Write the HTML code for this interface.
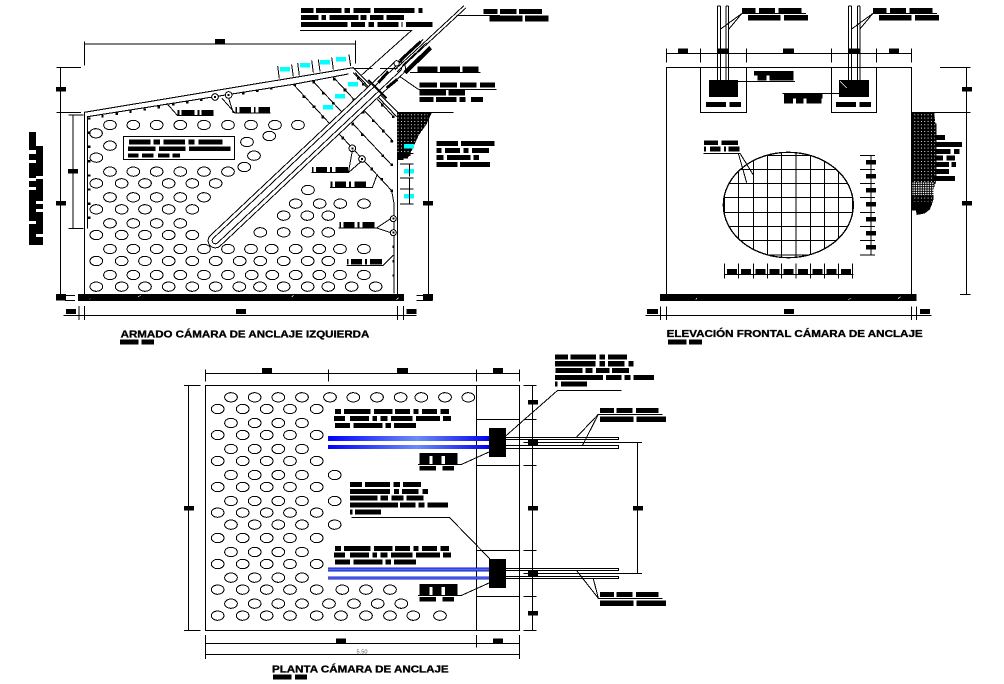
<!DOCTYPE html>
<html lang="es"><head><meta charset="utf-8"><title>Cámara de anclaje</title>
<style>
html,body{margin:0;padding:0;background:#fff}
svg{display:block;shape-rendering:crispEdges}
.l{fill:none;stroke:#000;stroke-width:3.2}
.d{fill:none;stroke:#000;stroke-width:3}
.b{fill:#000;stroke:none}
.e{fill:#fff;stroke:#000;stroke-width:3}
.c{fill:#00ffff}
.t{font-family:"Liberation Sans",sans-serif;font-weight:bold;font-size:29px;fill:#000;stroke:#000;stroke-width:1}
</style></head><body>
<svg xmlns="http://www.w3.org/2000/svg" width="1004" height="684" viewBox="0 0 1004 684">
<defs>
<ellipse id="e" class="e" cx="0" cy="0" rx="19" ry="14"/>
<pattern id="h" width="10" height="10" patternUnits="userSpaceOnUse"><rect width="10" height="10" fill="#000"/><rect x="3" y="3" width="3.4" height="3.4" fill="#fff"/></pattern>
<pattern id="h2" width="7" height="7" patternUnits="userSpaceOnUse"><rect width="7" height="7" fill="#000"/><rect x="2" y="2" width="3.4" height="3.4" fill="#fff"/></pattern>
<linearGradient id="g" x1="0" x2="1" y1="0" y2="0"><stop offset="0" stop-color="#0000ff"/><stop offset=".55" stop-color="#6d8cf5"/><stop offset="1" stop-color="#0000f0"/></linearGradient>
<linearGradient id="g2" x1="0" x2="0" y1="0" y2="1"><stop offset="0" stop-color="#0000d8"/><stop offset=".5" stop-color="#5b78ee"/><stop offset="1" stop-color="#0000b0"/></linearGradient>
<clipPath id="cc"><ellipse cx="865" cy="615" rx="195" ry="158"/></clipPath>
</defs>

<!-- ============ LEFT DRAWING ============ -->
<g transform="scale(.33333)">
<!-- ellipses -->
<g transform="translate(0,375)"><use href="#e" x="330"/><use href="#e" x="400"/><use href="#e" x="470"/><use href="#e" x="541"/><use href="#e" x="612"/><use href="#e" x="684"/><use href="#e" x="753"/><use href="#e" x="825"/><use href="#e" x="894"/></g>
<use href="#e" x="288" y="400"/><use href="#e" x="808" y="408"/><use href="#e" x="741" y="426"/><use href="#e" x="330" y="437"/><use href="#e" x="762" y="467"/><use href="#e" x="289" y="473"/><use href="#e" x="733" y="501"/>
<g transform="translate(0,515)"><use href="#e" x="330"/><use href="#e" x="400"/><use href="#e" x="470"/><use href="#e" x="541"/><use href="#e" x="612"/><use href="#e" x="684"/></g>
<g transform="translate(0,550)"><use href="#e" x="289"/><use href="#e" x="365"/><use href="#e" x="435"/><use href="#e" x="506"/><use href="#e" x="577"/><use href="#e" x="647"/></g>
<g transform="translate(0,592)"><use href="#e" x="330"/><use href="#e" x="400"/><use href="#e" x="470"/><use href="#e" x="541"/><use href="#e" x="612"/></g>
<g transform="translate(0,628)"><use href="#e" x="289"/><use href="#e" x="365"/><use href="#e" x="435"/><use href="#e" x="506"/><use href="#e" x="577"/></g>
<g transform="translate(0,670)"><use href="#e" x="330"/><use href="#e" x="400"/><use href="#e" x="470"/><use href="#e" x="541"/></g>
<g transform="translate(0,705)"><use href="#e" x="289"/><use href="#e" x="365"/><use href="#e" x="435"/><use href="#e" x="506"/><use href="#e" x="577"/></g>
<g transform="translate(0,747)"><use href="#e" x="330"/><use href="#e" x="400"/><use href="#e" x="470"/><use href="#e" x="541"/><use href="#e" x="612"/><use href="#e" x="684"/><use href="#e" x="753"/><use href="#e" x="815"/><use href="#e" x="887"/><use href="#e" x="958"/><use href="#e" x="1020"/><use href="#e" x="1092"/></g>
<g transform="translate(0,783)"><use href="#e" x="289"/><use href="#e" x="365"/><use href="#e" x="435"/><use href="#e" x="506"/><use href="#e" x="577"/><use href="#e" x="647"/><use href="#e" x="719"/><use href="#e" x="781"/><use href="#e" x="851"/><use href="#e" x="923"/><use href="#e" x="985"/></g>
<g transform="translate(0,825)"><use href="#e" x="330"/><use href="#e" x="400"/><use href="#e" x="470"/><use href="#e" x="541"/><use href="#e" x="612"/><use href="#e" x="684"/><use href="#e" x="755"/><use href="#e" x="817"/><use href="#e" x="887"/><use href="#e" x="958"/><use href="#e" x="1020"/><use href="#e" x="1092"/></g>
<g transform="translate(0,860)"><use href="#e" x="289"/><use href="#e" x="365"/><use href="#e" x="435"/><use href="#e" x="506"/><use href="#e" x="577"/><use href="#e" x="647"/><use href="#e" x="718"/><use href="#e" x="780"/><use href="#e" x="851"/><use href="#e" x="923"/><use href="#e" x="985"/><use href="#e" x="1055"/><use href="#e" x="1127"/></g>
<use href="#e" x="924" y="570"/>
<g transform="translate(0,611)"><use href="#e" x="887"/><use href="#e" x="959"/><use href="#e" x="1021"/><use href="#e" x="1092"/></g>
<g transform="translate(0,647)"><use href="#e" x="851"/><use href="#e" x="922"/><use href="#e" x="985"/></g>
<g transform="translate(0,697)"><use href="#e" x="781"/><use href="#e" x="851"/><use href="#e" x="923"/><use href="#e" x="985"/></g>

<!-- outline -->
<path class="l" d="M253 882V337L1060 203L1192 335V882M263 685V350L880 253L1045 222M1182 880V610M1065 218L1190 350"/>
<!-- rebar diagonals -->
<path class="d" d="M880 253L1175 572L1182 610M940 245L1175 495M1003 235L1180 425M1060 218L1180 350"/>
<path class="b" d="M880 250h8v8h-8zM908 286h8v8h-8zM938 316h8v8h-8zM964 347h8v8h-8zM993 378h8v8h-8zM1024 410h8v8h-8zM1111 503h8v8h-8zM1141 534h8v8h-8zM1171 568h8v8h-8zM937 243h8v8h-8zM966 276h8v8h-8zM996 306h8v8h-8zM1026 338h8v8h-8zM1054 368h8v8h-8zM1083 400h8v8h-8zM1144 463h8v8h-8zM1171 490h8v8h-8zM999 233h8v8h-8zM1031 266h8v8h-8zM1058 296h8v8h-8zM1086 333h8v8h-8zM1116 358h8v8h-8zM1146 389h8v8h-8zM1171 420h8v8h-8zM1071 231h8v8h-8zM1086 249h8v8h-8zM1116 281h8v8h-8zM1143 311h8v8h-8zM1176 346h8v8h-8z"/>
<path class="b" d="M264 352h7v7h-7zM304 345h7v7h-7zM347 338h7v7h-7zM388 332h7v7h-7zM431 325h7v7h-7zM473 318h7v7h-7zM516 310h7v7h-7zM558 303h7v7h-7zM600 296h7v7h-7zM684 284h7v7h-7zM726 276h7v7h-7zM768 269h7v7h-7zM810 262h7v7h-7zM264 395h7v7h-7zM264 437h7v7h-7zM264 480h7v7h-7zM264 523h7v7h-7zM264 565h7v7h-7zM264 608h7v7h-7zM264 650h7v7h-7zM1177 737h7v7h-7zM1177 780h7v7h-7zM1177 823h7v7h-7z"/>
<!-- anchor tube -->
<path d="M646 722L1195 205" stroke="#000" stroke-width="46" stroke-linecap="round" fill="none"/>
<path d="M646 722L1195 205" stroke="#fff" stroke-width="40" stroke-linecap="round" fill="none"/>
<path d="M646 722L1195 205" stroke="#000" stroke-width="22" stroke-linecap="round" fill="none"/>
<path d="M646 722L1195 205" stroke="#fff" stroke-width="16" stroke-linecap="round" fill="none"/>
<path d="M1188 212L1395 20" stroke="#000" stroke-width="12" fill="none"/>
<path d="M1188 212L1395 20" stroke="#fff" stroke-width="6" fill="none"/>
<path d="M1197 190L1270 118M1207 197L1280 128" class="d"/>
<path d="M1200 182L1262 125" stroke="#000" stroke-width="9" fill="none"/>
<path d="M1215 218L1292 143" stroke="#000" stroke-width="13" fill="none"/>
<path d="M1135 248L1165 215M1160 264L1192 238" stroke="#000" stroke-width="9" fill="none"/>
<path d="M1105 240L1160 295" stroke="#000" stroke-width="6" fill="none"/>
<circle cx="1190" cy="190" r="8" fill="#fff" stroke="#000" stroke-width="3"/>
<!-- small circles -->
<g fill="#fff" stroke="#000" stroke-width="3"><circle cx="645" cy="291" r="10"/><circle cx="686" cy="285" r="10"/><circle cx="1057" cy="445" r="10"/><circle cx="1086" cy="477" r="10"/><circle cx="1180" cy="656" r="9"/><circle cx="1180" cy="698" r="9"/></g>
<path class="b" d="M642 288h6v6h-6zM683 282h6v6h-6zM1054 442h6v6h-6zM1083 474h6v6h-6zM1177 653h6v6h-6zM1177 695h6v6h-6z"/>
<!-- hatch -->
<path fill="url(#h)" d="M1192 337H1296L1280 372L1255 408L1240 442L1226 470L1192 480z"/>
<path class="b" d="M1192 458h40v10h-8v8h-14v4h-18z"/>
<!-- cyan -->
<path class="c" d="M840 201h30v14h-30zM900 189h30v14h-30zM960 180h30v14h-30zM1008 171h30v14h-30zM1044 246h30v14h-30zM1005 282h30v14h-30zM969 315h30v14h-30zM1212 432h30v14h-30zM1212 507h30v14h-30zM1212 582h30v14h-30z"/>
<path class="d" d="M833 198L838 236M875 194L880 230M893 189L898 226M935 181L940 218M955 178L960 214M995 172L1000 208M1047 164L1052 198M1200 492H1240M1228 492V530M1200 534H1240M1228 534V570M1200 567H1240M1228 570V612M1200 612H1240M1200 460H1240"/>
<!-- dims -->
<path class="d" d="M253 132H1067M253 124V197M1067 122V190M182 202V882M170 202H243M170 337H243M219 345V685M205 345H250M205 685H250M1285 340V885M1192 337H1360M190 946H1250M237 918V960M253 918V960M1193 918V960M1210 918V960M195 887H225M195 901H225M1250 887H1298M1250 901H1298M1060 205H1118M1140 205H1192"/>
<!-- slab -->
<path class="b" d="M234 882h978v21H234z"/>
<path d="M415 891l6-5M875 891l5-5M1190 899l6-6M268 899l4-4" stroke="#fff" stroke-width="2" fill="none"/>
<!-- dim blocks -->
<path class="b" d="M645 117h30v16h-30zM168 261h30v14h-30zM168 603h30v14h-30zM168 882h30v20h-30zM204 507h30v14h-30zM1269 603h30v14h-30zM1269 882h30v20h-30zM198 927h30v15h-30zM708 927h30v15h-30zM1220 927h30v15h-30z"/>
<!-- vertical blob -->
<path class="b" d="M87 396h21v42h21v297H87z"/>
<path d="M87 450h21v12H87zM87 480h21v9H87zM87 534h21v9H87zM87 561h21v9H87zM87 663h21v9H87zM108 528h21v9h-21zM108 603h21v9h-21zM108 627h21v9h-21zM108 702h21v9h-21z" fill="#fff"/>
<!-- top note -->
<path class="b" d="M903 24h37v15h-37zM948 24h77v15h-77zM1033 24h17v15h-17zM1060 24h52v15h-52zM1122 24h121v15h-121zM1255 24h13v15h-13zM903 45h52v15h-52zM965 45h13v15h-13zM988 45h87v15h-87zM1082 45h18v15h-18zM1110 45h40v15h-40zM1160 45h52v15h-52zM903 66h140v15H903zM1053 66h42v15h-42zM1105 66h17v15h-17zM1132 66h63v15h-63zM1205 66h3v15h-3zM1218 66h80v15h-80z"/>
<path class="d" d="M900 91H1235L1085 225"/>
<path class="d" d="M1370 47H1500"/>
<path class="b" d="M1450 27h42v15h-42zM1468 47h32v17h-32z"/>
<!-- right notes -->
<path class="b" d="M1252 199h60v17h-60zM1320 199h7v17h-7zM1328 199h52v17h-52zM1388 199h48v17h-48zM1258 247h53v16h-53zM1320 247h51v16h-51zM1380 247h50v16h-50zM1440 247h45v16h-45zM1258 270h80v17h-80zM1345 270h50v17h-50zM1258 291h43v15h-43zM1308 291h62v15h-62zM1378 291h18v15h-18zM1413 291h36v15h-36zM1309 423h65v15h-65zM1383 423h100v15h-100zM1309 444h16v15h-16zM1335 444h45v15h-45zM1390 444h16v15h-16zM1416 444h51v15h-51zM1309 465h22v15h-22zM1341 465h70v15h-70zM1420 465h17v15h-17zM1309 486h63v15h-63zM1380 486h90v15h-90z"/>
<path class="d" d="M1230 217H1442M1255 268H1490M1200 230L1255 268"/>
<!-- box -->
<rect x="371" y="409" width="333" height="70" fill="#fff" stroke="#000" stroke-width="3"/>
<path class="b" d="M387 418h65v16h-65zM460 418h20v16h-20zM490 418h65v16h-65zM565 418h18v16h-18zM595 418h72v16h-72zM384 439h82v14h-82zM477 439h80v14h-80zM567 439h124v14H567zM384 460h32v13h-32zM426 460h35v13h-35zM474 460h34v13h-34zM518 460h22v13h-22z"/>
<!-- labels -->
<path class="b" d="M533 330h5v17h-5zM545 330h38v17h-38zM592 330h6v17h-6zM605 330h35v17h-35zM706 321h5v17h-5zM718 321h35v17h-35zM762 321h5v17h-5zM775 321h35v17h-35zM936 501h5v17h-5zM948 501h33v17h-33zM990 501h6v17h-6zM1006 501h38v17h-38zM992 544h6v17h-6zM1005 544h33v17h-33zM1047 544h6v17h-6zM1063 544h35v17h-35zM1018 666h5v17h-5zM1030 666h33v17h-33zM1072 666h6v17h-6zM1088 666h35v17h-35zM1041 777h5v17h-5zM1053 777h33v17h-33zM1095 777h6v17h-6zM1110 777h36v17h-36z"/>
<path class="d" d="M500 310L533 347H640M812 339H705L666 295M700 339L686 295M935 518H1045L1057 452M1045 518L1085 483M990 563H1117L1132 522M1015 684H1130L1172 656M1130 684L1172 698M1040 796H1150L1180 765"/>
<!-- title -->
<text class="t" x="362" y="1013" textLength="746" lengthAdjust="spacingAndGlyphs">ARMADO CÁMARA DE ANCLAJE IZQUIERDA</text>
<path class="b" d="M360 1019h56v15h-56zM425 1019h37v15h-37z"/>
</g>

<!-- ============ FRONT ELEVATION ============ -->
<g transform="translate(500,0) scale(.33333)">
<path class="l" d="M499 882V202H1235V882M601 202V337H740V202M994 202V337H1130V202"/>
<path class="l" d="M652 18V240M661 18V240M678 18V240M686 18V240M1046 18V240M1055 18V240M1072 18V240M1080 18V240M652 18H661M678 18H686M1046 18H1055M1072 18H1080"/>
<path class="b" d="M627 240h87v51h-87zM1017 240h90v51h-90zM652 145h35v15h-35zM1045 145h35v15h-35zM534 145h30v15h-30zM849 145h33v15h-33zM1167 145h30v15h-30zM618 306h60v15h-60zM688 306h35v15h-35zM1008 306h60v15h-60zM1078 306h35v15h-35z"/>
<path d="M1020 244l20 20" stroke="#fff" stroke-width="2.5" fill="none"/>
<path class="d" d="M499 160H1235M499 146V188M601 146V188M740 146V188M994 146V188M1130 146V188M1235 146V188"/>
<!-- hatch right -->
<path fill="url(#h)" d="M1236 337H1303L1306 370H1310V540L1300 570V600L1290 628L1275 640L1250 645L1248 632H1236z"/>
<path fill="url(#h2)" d="M1236 548H1300V585H1236z"/>
<path class="b" d="M1236 605h60v8l-10 18-12 8-24 6-2-13h-12z"/>
<path class="b" d="M1305 405h30v15h-30zM1305 426h81v15h-81zM1305 447h46v15h-46zM1362 447h17v15h-17zM1305 466h24v15h-24zM1340 466h25v15h-25zM1305 486h42v15h-42zM1354 486h14v15h-14zM1305 507h42v15h-42zM1296 528h69v15h-69z"/>
<!-- grid ellipse -->
<ellipse cx="865" cy="615" rx="195" ry="158" fill="#fff" stroke="#000" stroke-width="4"/>
<path class="l" clip-path="url(#cc)" d="M673 450V780M715 450V780M760 450V780M802 450V780M845 450V780M888 450V780M932 450V780M973 450V780M1015 450V780M1058 450V780M660 466H1070M660 508H1070M660 550H1070M660 592H1070M660 637H1070M660 680H1070M660 722H1070M660 765H1070"/>
<!-- small dims -->
<path class="d" d="M1113 466V765M1080 466H1125M1080 508H1125M1080 550H1125M1080 592H1125M1080 637H1125M1080 680H1125M1080 722H1125M1080 765H1125M672 824H1060M673 790V835M715 790V835M760 790V835M802 790V835M845 790V835M888 790V835M932 790V835M973 790V835M1015 790V835M1058 790V835"/>
<path class="b" d="M1098 480h30v14h-30zM1098 522h30v14h-30zM1098 564h30v14h-30zM1098 606h30v14h-30zM1098 651h30v14h-30zM1098 693h30v14h-30zM1098 735h30v14h-30zM681 807h30v16h-30zM723 807h30v16h-30zM766 807h30v16h-30zM808 807h30v16h-30zM851 807h30v16h-30zM894 807h30v16h-30zM937 807h30v16h-30zM979 807h30v16h-30zM1023 807h30v16h-30z"/>
<!-- labels on top -->
<path class="b" d="M726 24h40v16h-40zM777 24h48v16h-48zM836 24h68v16h-68zM744 45h98v16h-98zM852 45h72v16h-72zM1119 24h40v16h-40zM1170 24h48v16h-48zM1229 24h68v16h-68zM1137 45h98v16h-98zM1245 45h72v16h-72z"/>
<path class="d" d="M725 41H918M662 87L725 41L686 88M1118 41H1311M1055 87L1118 41L1079 88"/>
<path class="b" d="M762 213h118v13h-118zM772 226h28v15h-28zM808 226h72v15h-72zM852 282h116v13H852zM852 295h27v16h-27zM888 295h22v16h-22zM920 295h44v16h-44z"/>
<path class="d" d="M714 245H885M848 281H1018"/>
<path class="b" d="M612 421h42v14h-42zM664 421h50v14h-50zM612 439h6v15h-6zM630 439h32v15h-32zM672 439h6v15h-6zM686 439h32v15h-32z"/>
<path class="d" d="M610 460H720L760 525M715 460L740 548"/>
<!-- right dim -->
<path class="d" d="M1399 202V884M1320 202H1412M1235 337H1412M1380 884H1412"/>
<path class="b" d="M1386 261h30v14h-30zM1386 603h30v14h-30z"/>
<!-- slab -->
<path class="b" d="M480 882h770v21H480z"/>
<path d="M586 899l5-4M1046 899l5-4M1194 896l8-6" stroke="#fff" stroke-width="2" fill="none"/>
<path class="d" d="M437 946H1295M481 920V960M499 920V960M1235 920V960M1250 920V960"/>
<path class="b" d="M441 927h33v15h-33zM852 927h30v15h-30zM1260 927h30v15h-30z"/>
<text class="t" x="500" y="1011" textLength="768" lengthAdjust="spacingAndGlyphs">ELEVACIÓN FRONTAL CÁMARA DE ANCLAJE</text>
<path class="b" d="M504 1018h55v16h-55zM567 1018h39v16h-39z"/>
<path class="b" d="M0 27h50v15H0zM57 27h69v15H57zM0 47h67v18H0zM75 47h71v18H75z"/>
</g>

<!-- ============ PLAN ============ -->
<g transform="translate(180,345) scale(.33333)">
<path class="l" d="M76 122H1018V856H76zM889 122V856"/>
<g transform="translate(0,157)"><use href="#e" x="153"/><use href="#e" x="224"/><use href="#e" x="295"/><use href="#e" x="366"/><use href="#e" x="450"/><use href="#e" x="520"/><use href="#e" x="591"/><use href="#e" x="662"/><use href="#e" x="724"/><use href="#e" x="795"/><use href="#e" x="865"/></g>
<g transform="translate(0,192)"><use href="#e" x="113"/><use href="#e" x="188"/><use href="#e" x="260"/><use href="#e" x="330"/><use href="#e" x="410"/></g>
<g transform="translate(0,234)"><use href="#e" x="153"/><use href="#e" x="224"/><use href="#e" x="295"/><use href="#e" x="366"/></g>
<g transform="translate(0,270)"><use href="#e" x="113"/><use href="#e" x="188"/><use href="#e" x="260"/><use href="#e" x="330"/><use href="#e" x="410"/></g>
<g transform="translate(0,312)"><use href="#e" x="153"/><use href="#e" x="224"/><use href="#e" x="295"/><use href="#e" x="366"/></g>
<g transform="translate(0,348)"><use href="#e" x="113"/><use href="#e" x="188"/><use href="#e" x="260"/><use href="#e" x="330"/><use href="#e" x="410"/></g>
<g transform="translate(0,390)"><use href="#e" x="153"/><use href="#e" x="224"/><use href="#e" x="295"/><use href="#e" x="366"/><use href="#e" x="464"/></g>
<g transform="translate(0,426)"><use href="#e" x="113"/><use href="#e" x="188"/><use href="#e" x="260"/><use href="#e" x="330"/><use href="#e" x="410"/></g>
<g transform="translate(0,468)"><use href="#e" x="153"/><use href="#e" x="224"/><use href="#e" x="295"/><use href="#e" x="366"/><use href="#e" x="464"/></g>
<g transform="translate(0,503)"><use href="#e" x="113"/><use href="#e" x="188"/><use href="#e" x="260"/><use href="#e" x="330"/><use href="#e" x="410"/></g>
<g transform="translate(0,539)"><use href="#e" x="153"/><use href="#e" x="224"/><use href="#e" x="295"/><use href="#e" x="366"/><use href="#e" x="464"/></g>
<g transform="translate(0,579)"><use href="#e" x="113"/><use href="#e" x="188"/><use href="#e" x="260"/><use href="#e" x="330"/><use href="#e" x="410"/></g>
<g transform="translate(0,621)"><use href="#e" x="153"/><use href="#e" x="224"/><use href="#e" x="295"/><use href="#e" x="366"/></g>
<g transform="translate(0,657)"><use href="#e" x="113"/><use href="#e" x="188"/><use href="#e" x="260"/><use href="#e" x="330"/><use href="#e" x="410"/></g>
<g transform="translate(0,698)"><use href="#e" x="153"/><use href="#e" x="224"/><use href="#e" x="295"/><use href="#e" x="366"/></g>
<g transform="translate(0,734)"><use href="#e" x="113"/><use href="#e" x="188"/><use href="#e" x="260"/><use href="#e" x="330"/><use href="#e" x="410"/><use href="#e" x="487"/><use href="#e" x="558"/><use href="#e" x="630"/></g>
<g transform="translate(0,776)"><use href="#e" x="153"/><use href="#e" x="224"/><use href="#e" x="295"/><use href="#e" x="366"/><use href="#e" x="447"/><use href="#e" x="522"/><use href="#e" x="593"/><use href="#e" x="664"/></g>
<g transform="translate(0,812)"><use href="#e" x="113"/><use href="#e" x="188"/><use href="#e" x="260"/><use href="#e" x="330"/><use href="#e" x="410"/><use href="#e" x="483"/><use href="#e" x="558"/><use href="#e" x="630"/><use href="#e" x="700"/><use href="#e" x="780"/></g>
<!-- blue -->
<rect x="444" y="273" width="485" height="15" fill="url(#g)"/>
<rect x="444" y="300" width="485" height="12" fill="url(#g)"/>
<rect x="444" y="667" width="485" height="13" fill="url(#g2)"/>
<rect x="444" y="694" width="485" height="10" fill="url(#g2)"/>
<!-- blocks -->
<path class="b" d="M927 249h51v87h-51zM927 642h51v87h-51z"/>
<!-- bars -->
<path class="d" d="M978 277H1315V284H978M978 302H1315V311H978M978 670H1315V677H978M978 694H1315V701H978"/>
<path class="d" d="M889 223H1018M889 361H1018M889 616H1018M889 754H1018"/>
<!-- dims -->
<path class="d" d="M76 85H1018M76 73V110M445 73V110M889 73V110M1018 73V110M26 122V856M12 122H62M12 856H62M1058 122V856M1030 122H1070M1030 223H1070M1030 293H1070M1030 361H1070M1030 616H1070M1030 685H1070M1030 754H1070M1030 856H1070M1372 293V685M1060 293H1386M1060 685H1386M76 895H1018M76 870V908M889 870V908M1018 870V908M76 928H1018M76 908V942M1018 908V942"/>
<path class="b" d="M246 69h30v15h-30zM651 69h33v15h-33zM939 69h30v15h-30zM12 483h30v14H12zM1044 165h30v14h-30zM1044 285h30v16h-30zM1044 483h30v14h-30zM1044 678h30v16h-30zM1044 798h30v14h-30zM1359 483h30v14h-30zM468 880h30v15h-30zM939 880h30v15h-30z"/>
<text x="546" y="926" text-anchor="middle" font-family="Liberation Sans, sans-serif" font-size="17" fill="#555">5.50</text>
<!-- notes -->
<path class="b" d="M465 192h18v15h-18zM492 192h80v15h-80zM582 192h55v15h-55zM645 192h45v15h-45zM700 192h15v15h-15zM726 192h45v15h-45zM781 192h26v15h-26zM462 213h33v15h-33zM510 213h57v15h-57zM577 213h14v15h-14zM601 213h22v15h-22zM633 213h65v15h-65zM708 213h72v15h-72zM789 213h24v15h-24zM465 234h45v15h-45zM520 234h87v15h-87zM616 234h17v15h-17zM642 234h66v15h-66zM465 603h18v15h-18zM492 603h80v15h-80zM582 603h55v15h-55zM645 603h45v15h-45zM700 603h15v15h-15zM726 603h45v15h-45zM781 603h26v15h-26zM462 623h33v15h-33zM510 623h57v15h-57zM577 623h14v15h-14zM601 623h22v15h-22zM633 623h65v15h-65zM708 623h72v15h-72zM789 623h24v15h-24zM465 644h45v15h-45zM520 644h87v15h-87zM616 644h17v15h-17zM642 644h66v15h-66zM510 411h36v15h-36zM555 411h75v15h-75zM640 411h20v15h-20zM669 411h54v15h-54zM510 432h120v15H510zM642 432h15v15h-15zM666 432h50v15h-50zM727 432h17v15h-17zM510 452h82v15h-82zM602 452h22v15h-22zM634 452h36v15h-36zM680 452h50v15h-50zM510 472h144v15H510zM660 472h46v15h-46zM716 472h18v15h-18zM742 472h62v15h-62zM510 493h7v15h-7zM525 493h78v15h-78z"/>
<path class="b" d="M718 324h115v9h-115zM718 333h30v26h-30zM757 333h28v26h-28zM795 333h38v26h-38zM718 717h115v9h-115zM718 726h30v26h-30zM757 726h28v26h-28zM795 726h38v26h-38zM718 363h50v14h-50zM788 363h34v14h-34zM718 756h50v14h-50zM788 756h34v14h-34z"/>
<path class="d" d="M714 358H845L927 321M714 751H845L927 714M514 517H808L930 642"/>
<!-- top right notes -->
<path class="b" d="M1125 28h39v16h-39zM1172 28h76v16h-76zM1258 28h17v16h-17zM1284 28h57v16h-57zM1125 48h122v16h-122zM1258 48h17v16h-17zM1284 48h50v16h-50zM1345 48h15v16h-15zM1127 69h81v15h-81zM1216 69h22v15h-22zM1248 69h40v15h-40zM1296 69h51v15h-51zM1125 90h144v15h-144zM1278 90h46v15h-46zM1333 90h18v15h-18zM1360 90h62v15h-62zM1125 110h7v15h-7zM1143 110h78v15h-78z"/>
<path class="d" d="M1325 136H1133L978 272"/>
<path class="b" d="M1260 189h42v15h-42zM1310 189h48v15h-48zM1368 189h68v15h-68zM1260 215h100v16h-100zM1370 215h88v16h-88zM1260 741h42v15h-42zM1310 741h48v15h-48zM1368 741h68v15h-68zM1260 767h100v16h-100zM1370 767h88v16h-88z"/>
<path class="d" d="M1448 208H1255L1190 276M1255 208L1207 302M1448 760H1255L1190 677M1255 760L1240 701"/>
<text class="t" x="276" y="983" textLength="530" lengthAdjust="spacingAndGlyphs">PLANTA CÁMARA DE ANCLAJE</text>
<path class="b" d="M279 989h56v15h-56zM345 989h36v15h-36z"/>
</g>
</svg>
</body></html>
